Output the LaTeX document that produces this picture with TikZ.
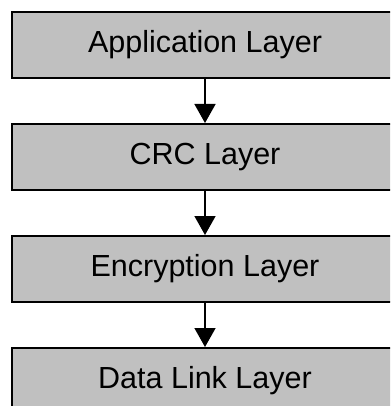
\documentclass[tikz,border=0pt]{standalone}
\usepackage{fontspec}
\setmainfont{Liberation Sans}
\usetikzlibrary{arrows.meta}
\definecolor{layergray}{RGB}{192,192,192}

\tikzset{
    layer/.style={draw=black, line width=2pt, fill=layergray,
        minimum width=386pt, minimum height=66pt, inner sep=0pt,
        font=\fontsize{30.5}{36}\selectfont},
    down/.style={line width=1.5pt, -{Triangle[length=19pt, width=21pt]}}
}

\begin{document}
\begin{tikzpicture}[x=1pt, y=-1pt]
    \useasboundingbox (0,0) rectangle (390,406);
    \clip (0,0) rectangle (390,406);
    % First, locate each of the layers and name them
        \node[layer] (app) at (205, 45) {Application Layer};
        \node[layer] (crc) at (205, 157) {CRC Layer};
        \node[layer] (enc) at (205, 269) {Encryption Layer};
        \node[layer] (link) at (205, 381) {Data Link Layer};

    % Now draw the arrows:
        \draw [down] (app) -- (crc);
        \draw [down] (crc) -- (enc);
        \draw [down] (enc) -- (link);
\end{tikzpicture}
\end{document}
